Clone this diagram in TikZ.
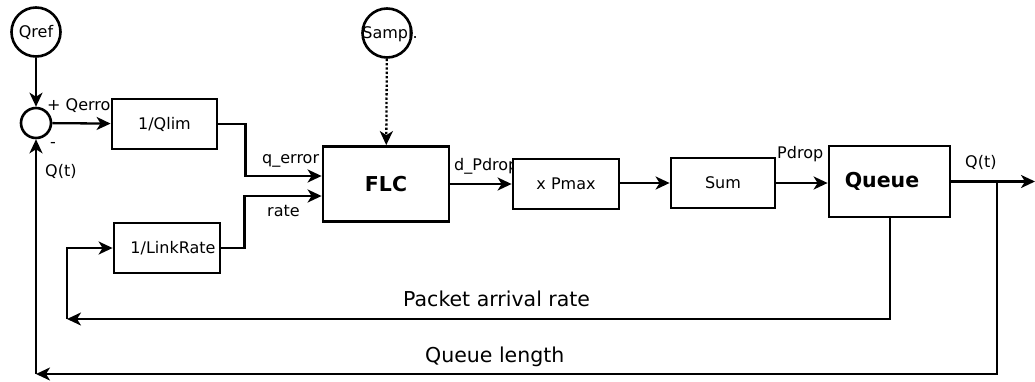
\documentclass[tikz,border=0pt]{standalone}
\usepackage{fontspec}
\setmainfont{DejaVu Sans}
\usetikzlibrary{arrows.meta}
\tikzset{
  blk/.style={draw, line width=2.8pt, fill=white, inner sep=0pt, font=\fontsize{16}{18}\selectfont},
  bigblk/.style={blk, font=\fontsize{20.5}{24}\selectfont\bfseries},
  circ/.style={draw, circle, line width=2.6pt, fill=white, inner sep=0pt},
  lbl/.style={anchor=base west, inner sep=0pt, font=\fontsize{16}{18}\selectfont},
  biglbl/.style={anchor=base west, inner sep=0pt, font=\fontsize{20.5}{24}\selectfont},
  conn/.style={line width=2.3pt},
  arr/.style={conn, -{Stealth[length=14pt, width=13pt, inset=4pt]}},
}
\begin{document}
\begin{tikzpicture}[x=1pt, y=-1pt]
\useasboundingbox (0,0) rectangle (1035,381);

% labels that get partly covered by boxes
\node[lbl] (lqerr) at (47,110) {+ Qerror};
\node[lbl] (ldp) at (454,170) {d\_Pdrop};

% circles
\node[circ, minimum size=49pt] (qref) at (36,32) {};
\node[font=\fontsize{16}{18}\selectfont, inner sep=0pt] (tqref) at (qref.center) {Qref};
\node[circ, minimum size=30pt] (sum) at (36,123) {};
\node[circ, minimum size=49pt] (samp) at (387,33) {};
\node[font=\fontsize{16}{18}\selectfont, inner sep=0pt] (tsamp) at (390,34) {Sampl.};

% blocks
\node[blk, minimum width=105pt, minimum height=50pt] (qlim) at (164.5,124) {1/Qlim};
\node[blk, minimum width=106pt, minimum height=50pt] (link) at (167,248) {\hspace*{12pt}1/LinkRate};
\node[bigblk, minimum width=126pt, minimum height=75pt] (flc) at (386,184) {FLC};
\node[blk, minimum width=106pt, minimum height=50pt] (pmax) at (566,184) {x Pmax};
\node[blk, minimum width=104pt, minimum height=50pt] (sumb) at (723,183) {Sum};
\node[bigblk, minimum width=121pt, minimum height=71pt] (queue) at (889.5,181.5) {\hspace*{-15pt}Queue};

% coordinates
\coordinate (fin1) at (flc.west |- 0,176);
\coordinate (fin2) at (flc.west |- 0,196);
\coordinate (c1) at (67,319);
\coordinate (c2) at (36,374);
\coordinate (qout) at (1035,181.5);
\coordinate (br) at (997,181.5);
\coordinate (qb) at (890,217);

% connectors
\draw[arr] (qref) -- (sum);
\draw[arr] (sum) -- (qlim);
\draw[arr] (qlim.east) -- ++(27,0) |- (fin1);
\draw[arr] (link.east) -- ++(23,0) |- (fin2);
\draw[arr, dotted] (samp) -- (flc);
\draw[arr] (flc.east |- pmax.west) -- (pmax.west);
\draw[arr] (pmax.east |- sumb.west) -- (sumb.west);
\draw[arr] (sumb.east) -- (queue.west |- sumb.east);
\draw[arr] (queue.east) -- (qout);
\draw[arr] (qb) |- (c1);
\draw[arr] (c1) |- (link.west);
\draw[arr] (br) |- (c2);
\draw[arr] (c2) -- (sum);

% labels
\node[lbl] (lminus) at (50,147) {-};
\node[lbl] (lqt) at (45,176) {Q(t)};
\node[lbl] (lqe) at (262,163) {q\_error};
\node[lbl] (lrate) at (267,216) {rate};
\node[lbl] (lpd) at (777,158) {Pdrop};
\node[lbl] (lqt2) at (965,167) {Q(t)};
\node[biglbl] (lpar) at (403,306) {Packet arrival rate};
\node[biglbl] (lql) at (425,362) {Queue length};
\end{tikzpicture}
\end{document}
